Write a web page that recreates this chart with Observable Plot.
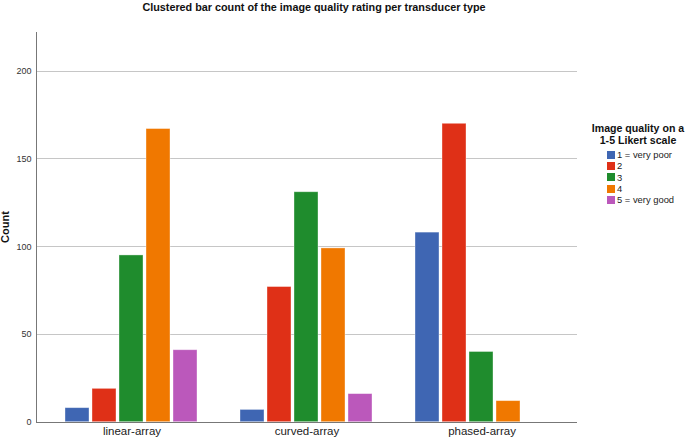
<!DOCTYPE html>
<html>
<head>
<meta charset="utf-8">
<script src="https://cdn.jsdelivr.net/npm/d3@7"></script>
<script src="https://cdn.jsdelivr.net/npm/@observablehq/plot@0.6"></script>
<style>
  html, body { margin: 0; padding: 0; background: #fff; }
  body { width: 685px; height: 438px; overflow: hidden; font-family: "Liberation Sans", Arial, sans-serif; }
  #wrap { position: relative; width: 685px; height: 438px; }
  #title { position: absolute; left: 0; width: 628px; top: 1px; text-align: center; font-weight: bold; font-size: 10.8px; color: #111; }
  #ytitle { position: absolute; left: 4.5px; top: 227px; transform: translate(-50%, -50%) rotate(-90deg); font-weight: bold; font-size: 11px; color: #111; white-space: nowrap; }
  #legend { position: absolute; left: 588px; top: 122px; width: 100px; font-size: 9.4px; color: #222; }
  #legend .lt { text-align: center; font-weight: bold; font-size: 10.6px; line-height: 12px; color: #111; margin-bottom: 3px; }
  #legend .it { display: flex; align-items: center; height: 11.3px; margin-left: 19px; }
  #legend .sw { width: 8px; height: 8px; margin-right: 2px; flex: none; }
  svg { position: absolute; left: 0; top: 0; }
</style>
</head>
<body>
<div id="wrap">
  <div id="title"></div>
  <div id="ytitle"></div>
  <div id="legend"></div>
</div>
<script>
const chartTitle = "Clustered bar count of the image quality rating per transducer type";
const yTitle = "Count";
const legendTitle = ["Image quality on a", "1-5 Likert scale"];
const transducers = ["linear-array", "curved-array", "phased-array"];
const ratings = ["1 = very poor", "2", "3", "4", "5 = very good"];
const ratingColors = ["#3f66b3", "#df3017", "#1f8c2d", "#f07800", "#bb58bb"];
const linearCounts = [8, 19, 95, 167, 41];
const curvedCounts = [7, 77, 131, 99, 16];
const phasedCounts = [108, 170, 40, 12, 0];
const yTicks = [0, 50, 100, 150, 200];

const series = [linearCounts, curvedCounts, phasedCounts];
const data = [];
transducers.forEach((t, i) => {
  ratings.forEach((r, j) => {
    data.push({transducer: t, rating: r, count: series[i][j]});
  });
});

document.getElementById("title").textContent = chartTitle;
document.getElementById("ytitle").textContent = yTitle;
const leg = document.getElementById("legend");
const lt = document.createElement("div");
lt.className = "lt";
lt.innerHTML = legendTitle.join("<br>");
leg.appendChild(lt);
ratings.forEach((r, j) => {
  const it = document.createElement("div");
  it.className = "it";
  const sw = document.createElement("span");
  sw.className = "sw";
  sw.style.background = ratingColors[j];
  const tx = document.createElement("span");
  tx.textContent = r;
  it.appendChild(sw);
  it.appendChild(tx);
  leg.appendChild(it);
});

const chart = Plot.plot({
  width: 685,
  height: 438,
  marginTop: 32,
  marginBottom: 16.3,
  marginLeft: 43,
  marginRight: 115,
  style: {fontFamily: "Liberation Sans, Arial, sans-serif", background: "transparent", overflow: "visible"},
  fx: {domain: transducers, padding: 0, label: null},
  x: {domain: ratings, paddingInner: 0.1, paddingOuter: 0.721, axis: null},
  y: {domain: [0, 222], axis: null},
  color: {domain: ratings, range: ratingColors},
  marks: [
    Plot.ruleY(yTicks.filter(d => d > 0), {y: d => d, stroke: "#c6c6c6", strokeWidth: 1.2, insetLeft: -8, insetRight: -8, shapeRendering: "crispEdges"}),
    Plot.text(yTicks, {y: d => d, text: d => String(d), frameAnchor: "left", facetAnchor: "left", textAnchor: "end", dx: -13, fontSize: 9, fill: "#333"}),
    Plot.barY(data.filter(d => d.count > 0), {fx: "transducer", x: "rating", y: "count", fill: "rating", stroke: "#ffffff", strokeOpacity: 0.45, strokeWidth: 0.8}),
    Plot.ruleY([0], {stroke: "#777", strokeWidth: 1.2, insetLeft: -8, insetRight: -8, shapeRendering: "crispEdges"}),
    Plot.frame({anchor: "left", facetAnchor: "left", stroke: "#777", strokeWidth: 1.2, insetLeft: -8, shapeRendering: "crispEdges"}),
    Plot.axisFx({anchor: "bottom", tickSize: 0, tickPadding: 5, fontSize: 11.5, fill: "#222", label: null})
  ]
});
document.getElementById("wrap").appendChild(chart);
</script>
</body>
</html>
